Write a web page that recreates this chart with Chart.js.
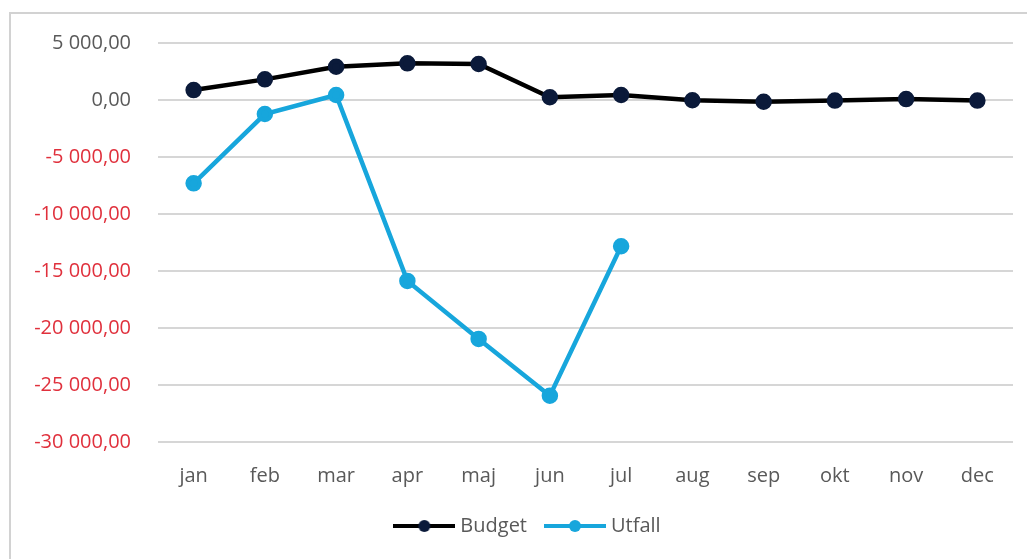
<!DOCTYPE html>
<html><head><meta charset="utf-8">
<script src="https://cdn.jsdelivr.net/npm/chart.js@4.4.1/dist/chart.umd.min.js"></script>
<style>
html,body{margin:0;padding:0;background:#fff;overflow:hidden;}
#frame{position:absolute;left:9px;top:12px;width:1018px;height:547px;border-left:2px solid #d2d2d2;border-top:2px solid #d2d2d2;}
#wrap{position:absolute;left:0;top:0;width:1027px;height:559px;}
</style></head><body>
<div id="frame"></div>
<div id="wrap"><canvas id="c" width="1027" height="559"></canvas></div>
<script>
const months = ['jan','feb','mar','apr','maj','jun','jul','aug','sep','okt','nov','dec'];
const budget = [870, 1810, 2920, 3220, 3160, 240, 440, -20, -150, -50, 80, -50];
const utfall = [-7310, -1230, 440, -15870, -20960, -25940, -12830, null, null, null, null, null];
const yMin = -30000, yMax = 5000, yStep = 5000;

const budgetLine = '#000000', budgetPoint = '#0b1a3a';
const utfallColor = '#17a6dc';
const textGray = '#595959', textRed = '#e0303c';
const FONT = "'Open Sans', 'DejaVu Sans', sans-serif";

function fmt(v){
  const neg = v < 0;
  const a = Math.abs(v);
  const s = Math.round(a).toString().replace(/\B(?=(\d{3})+(?!\d))/g, ' ');
  return (neg ? '-' : '') + s + ',00';
}
function legendIcon(lineColor, pointColor){
  const c = document.createElement('canvas');
  c.width = 62; c.height = 14;
  const x = c.getContext('2d');
  x.strokeStyle = lineColor; x.lineWidth = 4;
  x.beginPath(); x.moveTo(0,7); x.lineTo(62,7); x.stroke();
  x.fillStyle = pointColor;
  x.beginPath(); x.arc(31,7,6,0,Math.PI*2); x.fill();
  return c;
}
const icons = [legendIcon(budgetLine, budgetPoint), legendIcon(utfallColor, utfallColor)];

const shiftLegend = {
  id: 'shiftLegend',
  afterLayout(chart){
    if (chart.legend){ chart.legend.left += 23; chart.legend.right += 23; }
  }
};

new Chart(document.getElementById('c'), {
  type: 'line',
  data: {
    labels: months,
    datasets: [
      {label:'Budget', data: budget, borderColor: budgetLine, backgroundColor: budgetPoint,
       pointBackgroundColor: budgetPoint, pointBorderColor: budgetPoint, borderWidth: 4.5,
       pointRadius: 6, tension: 0},
      {label:'Utfall', data: utfall, borderColor: utfallColor, backgroundColor: utfallColor,
       pointBackgroundColor: utfallColor, pointBorderColor: utfallColor, borderWidth: 4.5,
       pointRadius: 6, tension: 0, spanGaps: false}
    ]
  },
  plugins: [shiftLegend],
  options: {
    responsive: false,
    animation: false,
    layout: { padding: { left: 0, right: 14, top: 43, bottom: 13 } },
    plugins: {
      tooltip: { enabled: false },
      legend: {
        position: 'bottom',
        labels: {
          usePointStyle: true,
          pointStyleWidth: 52,
          boxHeight: 14,
          color: textGray,
          font: { family: FONT, size: 20 },
          padding: 22,
          generateLabels: (chart) => chart.data.datasets.map((ds, i) => ({
            text: ds.label, fillStyle: ds.borderColor, strokeStyle: ds.borderColor,
            pointStyle: icons[i], lineWidth: 0, datasetIndex: i, hidden: false, fontColor: textGray
          }))
        }
      }
    },
    scales: {
      x: {
        offset: true,
        afterFit: (s) => { s.height = 52; },
        grid: { display: false, drawTicks: false, offset: true },
        border: { display: false },
        ticks: { color: textGray, font: { family: FONT, size: 20 }, padding: 22 }
      },
      y: {
        min: yMin, max: yMax,
        afterFit: (s) => { s.width = 158; },
        grid: { color: '#d6d6d6', lineWidth: 2, drawTicks: false },
        border: { display: false },
        ticks: {
          stepSize: yStep,
          padding: 27,
          font: { family: FONT, size: 20 },
          color: (ctx) => (ctx.tick && ctx.tick.value < 0) ? textRed : textGray,
          callback: (v) => fmt(v)
        }
      }
    }
  }
});
</script>
</body></html>
